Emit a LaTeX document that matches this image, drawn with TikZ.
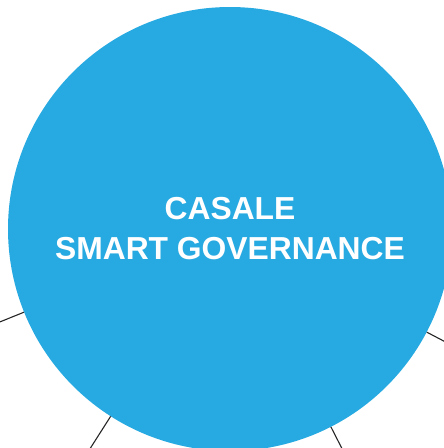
\documentclass[tikz,border=0pt]{standalone}
\usepackage{fontspec}
\setmainfont{Liberation Sans}
\definecolor{casaleblu}{RGB}{39,169,225}
\tikzset{
    nucleo/.style={circle, fill=casaleblu, minimum size=444pt, inner sep=0pt,
        align=center, text=white, font=\bfseries\fontsize{31.8}{40}\selectfont},
    ramo/.style={draw=black!85, line width=1.1pt}
}
\begin{document}
\begin{tikzpicture}[x=1pt, y=-1pt]
        \clip (0,0) rectangle (444,448);
        %%%%%%%%%% Nodi %%%%%%%%%%
        \node[nucleo] (C) at (230,229) {CASALE\\SMART GOVERNANCE};
        \coordinate (R1) at (-30,334);
        \coordinate (R2) at (79,466);
        \coordinate (R3) at (357,478);
        \coordinate (R4) at (478,359);

        %%%%%%%%% Archi %%%%%%%%%%
        \draw[ramo] (C) -- (R1);
        \draw[ramo] (C) -- (R2);
        \draw[ramo] (C) -- (R3);
        \draw[ramo] (C) -- (R4);
    \end{tikzpicture}
\end{document}
